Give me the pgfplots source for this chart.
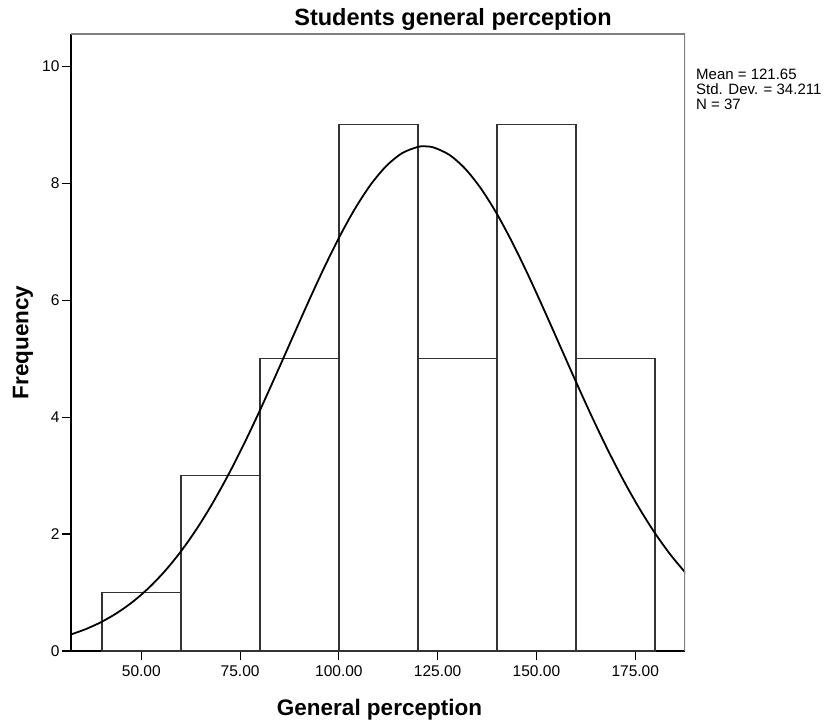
\documentclass[border=0pt]{standalone}
\usepackage{pgfplots}
\pgfplotsset{compat=1.18}
\usepackage{fontspec}
\setmainfont{Liberation Sans}
\begin{document}
\begin{tikzpicture}
\begin{axis}[
  name=ax, at={(0,0)}, anchor=south west,
  scale only axis, width=614bp, height=617bp,
  xmin=32.2, xmax=187.6, ymin=0, ymax=10.55,
  axis x line*=bottom, axis y line*=left,
  axis line style={black, line width=1.1bp},
  tick align=outside, major tick length=9bp,
  tick style={black, line width=1.1bp},
  xtick={50,75,100,125,150,175},
  xticklabels={50.00,75.00,100.00,125.00,150.00,175.00},
  ytick={0,2,4,6,8,10},
  ticklabel style={font=\fontsize{15.5bp}{18bp}\selectfont},
  /pgf/number format/assume math mode=true,
  xticklabel style={yshift=-2bp},
  yticklabel style={xshift=1bp},
  clip=true,
]
\addplot[ybar interval, fill=white, draw=black!80, line width=1.4bp]
  coordinates {(40,1)(60,3)(80,5)(100,9)(120,5)(140,9)(160,5)(180,5)};
\addplot[black, line width=1.8bp, smooth] coordinates {
(32,0.2785)(36,0.3757)(40,0.5003)(44,0.6569)(48,0.8505)(52,1.0866)(56,1.3692)
(60,1.7014)(64,2.0863)(68,2.5235)(72,3.0104)(76,3.5430)(80,4.1129)(84,4.7097)
(88,5.3199)(92,5.9277)(96,6.5152)(100,7.0636)(104,7.5543)(108,7.9694)(112,8.2930)
(116,8.5128)(120,8.6196)(121.65,8.6296)(124,8.6092)(128,8.4822)(132,8.2436)
(136,7.9029)(140,7.4734)(144,6.9711)(148,6.4147)(152,5.8223)(156,5.2130)
(160,4.6040)(164,4.0109)(168,3.4468)(172,2.9218)(176,2.4430)(180,2.0151)
(184,1.6398)(188,1.3160)};
\draw[gray, line width=1.3bp] (rel axis cs:0,1) -- (rel axis cs:1,1) -- (rel axis cs:1,0);
\end{axis}
\node[font=\bfseries\fontsize{23.5bp}{26bp}\selectfont, anchor=center] at (382bp,632bp) {Students general perception};
\node[font=\bfseries\fontsize{22.5bp}{26bp}\selectfont, anchor=base] at (308.5bp,-64bp) {General perception};
\node[font=\bfseries\fontsize{22.5bp}{26bp}\selectfont, rotate=90, anchor=center] at (-48bp,308.5bp) {Frequency};
\node[font=\fontsize{15bp}{15bp}\selectfont, anchor=north west, align=left, inner sep=0pt] at (625bp,582bp) {Mean = 121.65\\Std. Dev. = 34.211\\N = 37};
\pgfresetboundingbox
\useasboundingbox (-71bp,-69bp) rectangle (758bp,651bp);
\end{tikzpicture}
\end{document}
